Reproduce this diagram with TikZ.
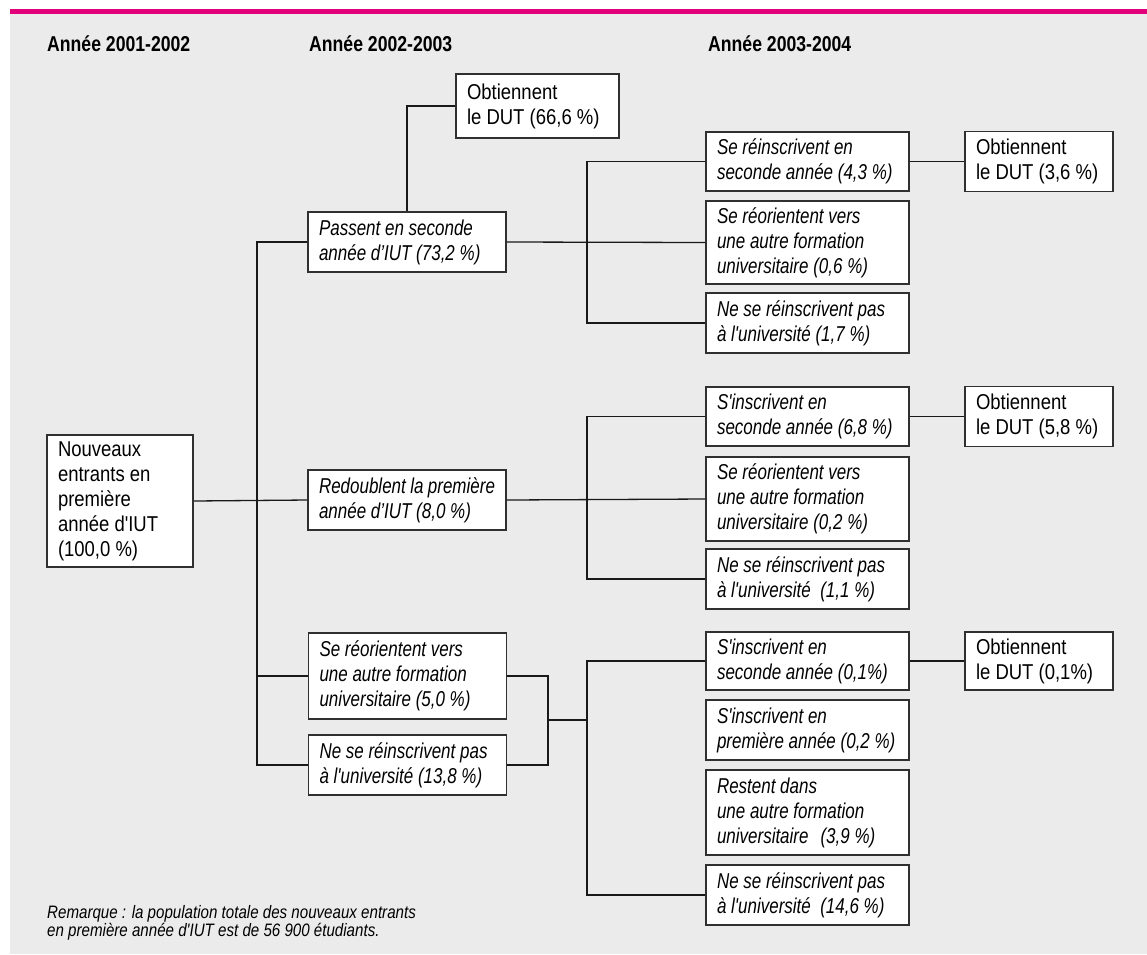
\documentclass[tikz,border=0pt]{standalone}
\usepackage{fontspec}
\newfontfamily\rgf{Liberation Sans}[FakeStretch=0.86]
\newfontfamily\itf{Liberation Sans}[FakeStretch=0.79]
\newfontfamily\remf{Liberation Sans}[FakeStretch=0.84]
\newfontfamily\hdf{Liberation Sans}[FakeStretch=0.82]
\definecolor{panel}{HTML}{EBEBEB}
\definecolor{magenta}{HTML}{E2007A}
\definecolor{border}{HTML}{303030}
\tikzset{
  box/.style={draw=border, fill=white, line width=1.6pt, inner xsep=11pt, inner ysep=2pt,
    align=left, execute at begin node={\spaceskip=0pt\xspaceskip=0pt\hyphenpenalty=10000\exhyphenpenalty=10000\relax},
    font=\rgf\fontsize{21.5}{25}\selectfont},
  ibox/.style={box, font=\itf\itshape\fontsize{21.5}{25}\selectfont},
  wB/.style={text width=176pt},
  wC/.style={text width=181pt},
  wD/.style={text width=126pt},
  conn/.style={draw=black!90, line width=1.3pt},
  hdr/.style={anchor=base west, inner sep=0pt, font=\hdf\bfseries\fontsize{21.5}{24}\selectfont},
}
\begin{document}
\begin{tikzpicture}[x=1pt,y=-1pt]
\useasboundingbox (0,0) rectangle (1147,954);
\fill[white] (0,0) rectangle (1147,954);
\fill[panel] (10,14) rectangle (1147,954);
\fill[magenta] (10,8.5) rectangle (1147,14);

% headers
\node[hdr] (h1) at (47,51) {Année 2001-2002};
\node[hdr] (h2) at (309,51) {Année 2002-2003};
\node[hdr] (h3) at (708,51) {Année 2003-2004};

% column 1
\node[box, text width=124pt, minimum height=132pt] (nouv) at (120,501)
  {Nouveaux\\entrants en\\première\\année d'IUT\\(100,0 \%)};

% column 2
\node[box, text width=141pt, minimum height=64pt] (obt66) at (537.5,106)
  {Obtiennent\\le DUT (66,6 \%)};
\node[ibox, wB, minimum height=60pt] (pass) at (407,242)
  {Passent en seconde\\année d’IUT (73,2 \%)};
\node[ibox, wB, minimum height=60pt] (red) at (407,500)
  {Redoublent la première\\année d’IUT (8,0 \%)};
\node[ibox, wB, minimum height=86pt] (reo) at (407.5,676)
  {Se réorientent vers\\une autre formation\\universitaire (5,0 \%)};
\node[ibox, wB, minimum height=60pt] (nse) at (407.5,765)
  {Ne se réinscrivent pas\\à l'université (13,8 \%)};

% column 3, group 1
\node[ibox, wC, minimum height=59pt] (a1) at (807.5,161.5)
  {Se réinscrivent en\\seconde année (4,3 \%)};
\node[ibox, wC, minimum height=83pt] (a2) at (807.5,242.5)
  {Se réorientent vers\\une autre formation\\universitaire (0,6 \%)};
\node[ibox, wC, minimum height=60pt] (a3) at (807.5,323)
  {Ne se réinscrivent pas\\à l'université (1,7 \%)};
\node[box, wD, minimum height=60pt] (obt36) at (1039,161.5)
  {Obtiennent\\le DUT (3,6 \%)};

% column 3, group 2
\node[ibox, wC, minimum height=59pt] (b1) at (807.5,416.5)
  {S'inscrivent en\\seconde année (6,8 \%)};
\node[ibox, wC, minimum height=84pt] (b2) at (807.5,499)
  {Se réorientent vers\\une autre formation\\universitaire (0,2 \%)};
\node[ibox, wC, minimum height=60pt] (b3) at (807.5,579)
  {Ne se réinscrivent pas\\à l'université\ \ (1,1 \%)};
\node[box, wD, minimum height=60pt] (obt58) at (1039,416.5)
  {Obtiennent\\le DUT (5,8 \%)};

% column 3, group 3
\node[ibox, wC, minimum height=58pt] (c1) at (807.5,661)
  {S'inscrivent en\\seconde année (0,1\%)};
\node[ibox, wC, minimum height=60pt] (c2) at (807.5,730)
  {S'inscrivent en\\première année (0,2 \%)};
\node[ibox, wC, minimum height=85pt] (c3) at (807.5,812.5)
  {Restent dans\\une autre formation\\universitaire\hspace{12pt}(3,9 \%)};
\node[ibox, wC, minimum height=60pt] (c4) at (807.5,895)
  {Ne se réinscrivent pas\\à l'université\ \ (14,6 \%)};
\node[box, wD, minimum height=58pt] (obt01) at (1039,661)
  {Obtiennent\\le DUT (0,1\%)};

% remark
\node[anchor=north west, inner sep=0pt, align=left,
  execute at begin node={\spaceskip=0pt\xspaceskip=0pt\relax},
  font=\remf\itshape\fontsize{18}{18}\selectfont] (rem) at (47,905)
  {Remarque : la population totale des nouveaux entrants\\en première année d'IUT est de 56 900 étudiants.};

% junction coordinates
\coordinate (trunk) at (257,500);
\coordinate (j1) at (587,242);
\coordinate (j2) at (587,499);
\coordinate (j3) at (548,720);
\coordinate (j4) at (587,720);

% connectors
\draw[conn] (obt66.west) -| (pass.north);
\draw[conn] (nouv.east) -- (red.west);
\draw[conn] (pass.west) -| (trunk) |- (nse.west);
\draw[conn] (reo.west) -- (reo.west -| trunk);

\draw[conn] (pass.east) -- (a2.west);
\draw[conn] (a1.west) -| (j1) |- (a3.west);
\draw[conn] (a1.east) -- (obt36.west);

\draw[conn] (red.east) -- (b2.west);
\draw[conn] (b1.west) -| (j2) |- (b3.west);
\draw[conn] (b1.east) -- (obt58.west);

\draw[conn] (reo.east) -| (j3) |- (nse.east);
\draw[conn] (j3) -- (j4);
\draw[conn] (c1.west) -| (j4) |- (c4.west);
\draw[conn] (c1.east) -- (obt01.west);
\end{tikzpicture}
\end{document}
